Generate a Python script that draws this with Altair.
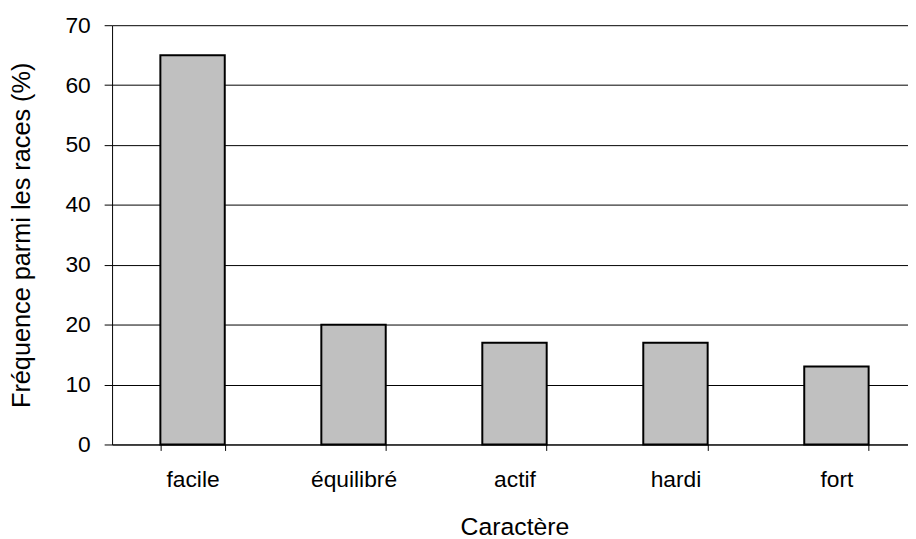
import altair as alt
import pandas as pd

categories = ["facile", "équilibré", "actif", "hardi", "fort"]
values = [65, 20, 17, 17, 13]

df = pd.DataFrame({"cat": categories, "val": values})

FONT = "Liberation Sans"

chart = alt.Chart(df).mark_bar(
    fill="#c0c0c0", stroke="#000000", strokeWidth=2
).encode(
    x=alt.X("cat:N", sort=categories,
            scale=alt.Scale(range=[0, 812], paddingInner=0.6, paddingOuter=0.3),
            axis=alt.Axis(title="Caractère", labelAngle=0, tickBand="extent",
                          tickSize=6, tickColor="#000000", domainColor="#000000",
                          labelFontSize=23, labelPadding=18, labelColor="#000000",
                          titleFontSize=25, titlePadding=24, titleColor="#000000",
                          titleFontWeight="normal", labelFont=FONT, titleFont=FONT)),
    y=alt.Y("val:Q",
            scale=alt.Scale(domain=[0, 70], nice=False),
            axis=alt.Axis(title="Fréquence parmi les races (%)", values=[0,10,20,30,40,50,60,70],
                          tickSize=8, tickColor="#000000", domainColor="#000000",
                          grid=True, gridColor="#000000", gridWidth=1,
                          labelFontSize=23, labelPadding=14, labelColor="#000000",
                          titleFontSize=25.5, titlePadding=31, titleColor="#000000",
                          titleFontWeight="normal", labelFont=FONT, titleFont=FONT)),
).properties(
    width=803, height=423,
    autosize=alt.AutoSizeParams(type="none"),
    padding={"left": 105, "top": 15, "right": 0, "bottom": 93},
).configure_view(stroke="transparent")

chart.save("out.html", embed_options={"renderer": "svg", "actions": False})
